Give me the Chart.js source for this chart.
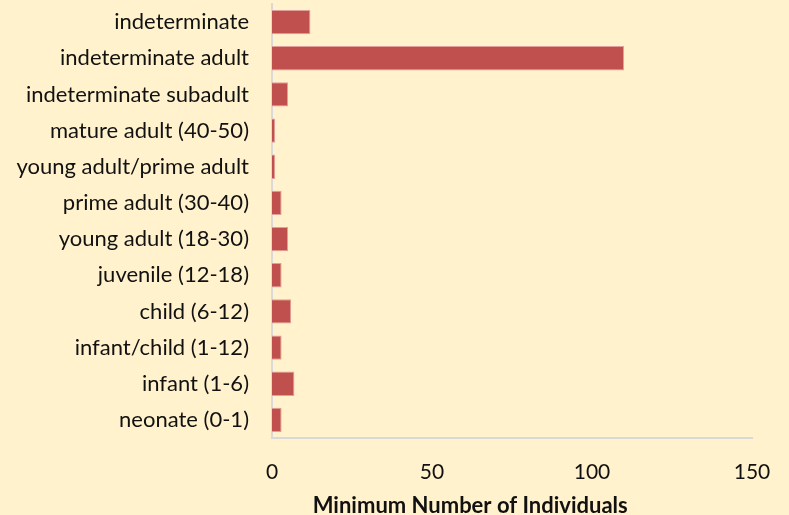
<!DOCTYPE html>
<html>
<head>
<meta charset="utf-8">
<script src="https://cdn.jsdelivr.net/npm/chart.js@4"></script>
<style>
  html, body { margin: 0; padding: 0; background: #FFF2CC; }
  #wrap { width: 789px; height: 515px; }
</style>
</head>
<body>
<div id="wrap"><canvas id="chart"></canvas></div>
<script>
const categories = [
  "indeterminate",
  "indeterminate adult",
  "indeterminate subadult",
  "mature adult (40-50)",
  "young adult/prime adult",
  "prime adult (30-40)",
  "young adult (18-30)",
  "juvenile (12-18)",
  "child (6-12)",
  "infant/child (1-12)",
  "infant (1-6)",
  "neonate (0-1)"
];
const mniValues = [12, 110, 5, 1, 1, 3, 5, 3, 6, 3, 7, 3];
const xTicks = [0, 50, 100, 150];
const xTitle = "Minimum Number of Individuals";

const fontFamily = "Lato, 'Open Sans', sans-serif";

// axis title sits a little left of the plot centre, as in the original
const axisTitlePlugin = {
  id: "axisTitle",
  afterDraw(chart) {
    const ctx = chart.ctx;
    const x = chart.scales.x;
    ctx.save();
    ctx.font = "bold 22px " + fontFamily;
    ctx.fillStyle = "#111";
    ctx.textAlign = "center";
    ctx.textBaseline = "middle";
    ctx.fillText(xTitle, chart.width * 0.596, x.top + 68);
    ctx.restore();
  }
};

new Chart(document.getElementById("chart"), {
  type: "bar",
  data: {
    labels: categories,
    datasets: [{
      label: "MNI",
      data: mniValues,
      backgroundColor: "#C0504D",
      borderColor: "#E39E9C",
      borderWidth: 1,
      borderSkipped: "left",
      barPercentage: 0.675,
      categoryPercentage: 1
    }]
  },
  options: {
    indexAxis: "y",
    responsive: true,
    maintainAspectRatio: false,
    animation: false,
    layout: { padding: { top: 4, right: 37, bottom: 0, left: 0 } },
    plugins: {
      legend: { display: false },
      tooltip: { enabled: false }
    },
    scales: {
      x: {
        min: 0,
        max: 150,
        afterBuildTicks: (scale) => { scale.ticks = xTicks.map(v => ({ value: v })); },
        afterFit: (scale) => { scale.height = 77; scale.paddingLeft = 0; scale.paddingRight = 0; },
        grid: { display: false, drawTicks: false },
        border: { display: true, color: "#D9D9D9", width: 2 },
        ticks: {
          padding: 22,
          color: "#111",
          maxRotation: 0,
          font: { family: fontFamily, size: 21 }
        }
      },
      y: {
        afterFit: (scale) => { scale.width = 272; scale.paddingTop = 0; scale.paddingBottom = 0; },
        grid: { display: false, drawTicks: false },
        border: { display: true, color: "#D9D9D9", width: 2 },
        ticks: {
          padding: 23,
          color: "#111",
          autoSkip: false,
          font: { family: fontFamily, size: 22 }
        }
      }
    }
  },
  plugins: [axisTitlePlugin]
});
</script>
</body>
</html>
